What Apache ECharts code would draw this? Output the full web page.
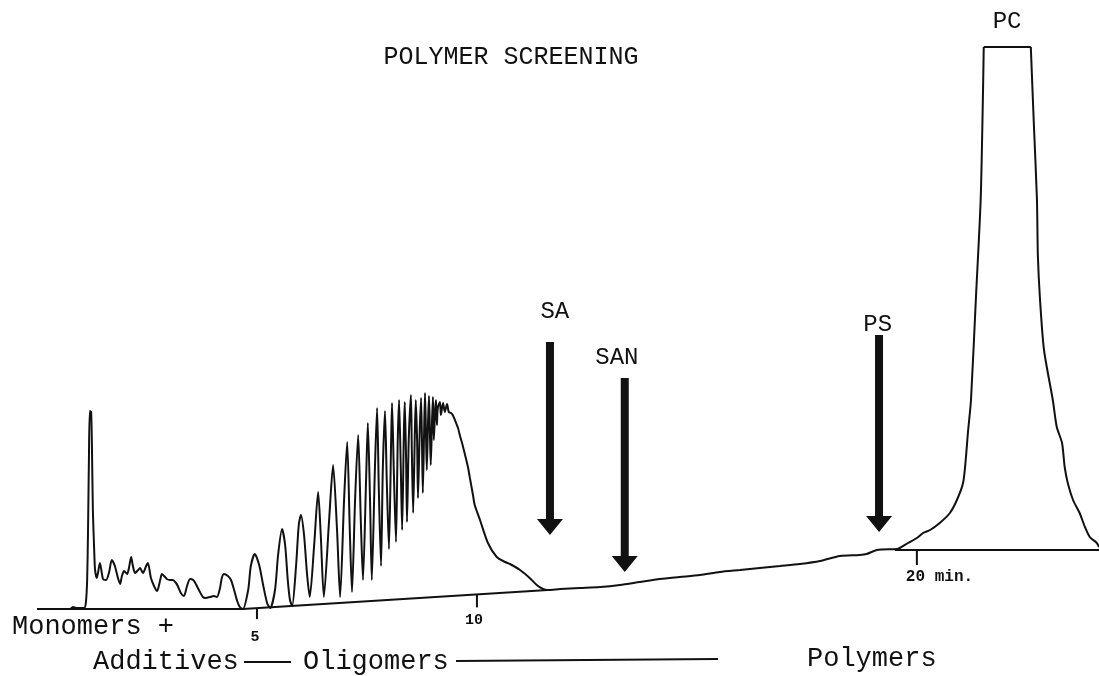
<!DOCTYPE html>
<html><head><meta charset="utf-8">
<script src="https://cdn.jsdelivr.net/npm/echarts@6/dist/echarts.min.js"></script>
<style>html,body{margin:0;padding:0;background:#fff}#c{width:1099px;height:676px}</style>
</head><body><div id="c"></div>
<script>
// ---- Data: [time (min), detector response (arbitrary units)] ----
const monomerTrace = [
  [0,1],[0.75,1],[0.82,3],[0.89,2],[1.07,2],[1.11,7],[1.14,30],[1.16,80],[1.18,150],[1.20,199],
  [1.23,198],[1.25,160],[1.27,100],[1.30,60],[1.32,40],[1.36,32],[1.43,47],[1.50,31],[1.57,30],[1.64,38],
  [1.70,50],[1.77,44],[1.84,32],[1.89,26],[1.93,34],[1.98,39],[2.05,36],[2.09,42],[2.14,53],[2.18,44],
  [2.23,37],[2.30,40],[2.34,42],[2.41,37],[2.48,44],[2.52,47],[2.59,32],[2.66,24],[2.73,19],[2.80,30],
  [2.84,36],[2.91,33],[2.95,31],[3.02,30],[3.09,30],[3.16,27],[3.20,24],[3.27,17],[3.34,14],[3.41,24],
  [3.48,31],[3.55,30],[3.61,26],[3.68,20],[3.77,13],[3.84,12],[3.93,13],[4.02,14],[4.09,13],[4.16,22],
  [4.20,32],[4.25,36],[4.34,34],[4.41,30],[4.48,20],[4.55,9],[4.61,3],[4.68,1]
];
const oligomerTrace = [
  [4.80,20],[4.86,44],[4.95,56],[5.05,45],[5.14,25],[5.23,7],[5.30,2],
  [5.41,20],[5.48,55],[5.57,81],[5.64,65],[5.70,30],[5.75,10],[5.80,4],
  [5.89,45],[5.95,85],[6.00,95],[6.07,75],[6.14,35],[6.20,13],
  [6.30,65],[6.39,118],[6.45,75],[6.52,13],
  [6.64,90],[6.73,145],[6.82,80],[6.89,13],
  [6.98,110],[7.05,168],[7.11,80],[7.16,18],
  [7.23,110],[7.30,175],[7.36,90],[7.41,30],
  [7.48,130],[7.52,187],[7.57,110],[7.61,30],
  [7.68,140],[7.73,202],[7.77,120],[7.82,44],
  [7.86,140],[7.91,199],[7.95,130],[8.00,61],
  [8.05,170],[8.07,207],[8.11,140],[8.16,68],
  [8.20,170],[8.23,210],[8.27,140],[8.30,80],
  [8.34,180],[8.36,208],[8.39,150],[8.41,88],
  [8.45,170],[8.50,215],[8.52,160],[8.55,97],
  [8.59,180],[8.61,210],[8.64,170],[8.66,112],
  [8.70,180],[8.73,212],[8.75,170],[8.77,117],
  [8.80,180],[8.82,217],[8.84,180],[8.86,140],
  [8.89,190],[8.91,214],[8.93,180],[8.95,145],
  [8.98,190],[9.00,213],[9.02,170],
  [9.05,200],[9.07,210],[9.09,185],
  [9.11,202],[9.16,208],[9.18,195],[9.23,207],[9.27,198],[9.32,206],[9.36,198],[9.41,197],[9.45,195],
  [9.50,190],[9.57,182],[9.61,175],[9.68,164],[9.73,155],[9.80,142],[9.84,132],[9.91,115],[9.95,105],
  [10.07,90],[10.25,67],[10.45,53],[10.64,48],[10.75,46],[10.98,40],[11.20,32],[11.36,25],[11.50,21],[11.61,20]
];
const polymerTrace = [
  [11.89,21],[12.34,22],[12.80,23],[13.25,25],[13.70,28],[14.16,31],[14.61,33],[15.07,35],[15.52,38],
  [15.98,40],[16.43,42],[16.89,44],[17.34,46],[17.80,49],[18.25,54],[18.70,55],[18.86,56],[19.09,60],[19.55,61]
];
const pcRise = [
  [19.61,62],[19.80,67],[20.00,72],[20.14,77],[20.30,80],[20.52,87],[20.75,97],[20.91,110],[21.05,127],
  [21.11,150],[21.16,177],[21.23,210],[21.34,310],[21.45,410],[21.50,510],[21.52,563]
];
const pcTop = [[21.52,563],[22.59,563]];
const pcFall = [
  [22.59,563],[22.66,485],[22.73,410],[22.75,355],[22.80,310],[22.89,260],[23.09,210],[23.18,183],[23.30,167],
  [23.36,143],[23.43,127],[23.55,110],[23.70,97],[23.82,83],[23.93,73],[24.09,67],[24.14,63]
];
const baselineLeft = [[0,1],[4.68,1],[11.61,20]];
const baselineRight = [[19.50,60],[24.14,60]];

const tickTimes = [5, 10, 20];
const tickLabels = ['5', '10', '20 min.'];

const arrowNames = ['SA', 'SAN', 'PS'];
const arrowTimes = [11.66, 13.36, 19.14];
const arrowTop = [268, 232, 275];
const arrowTip = [75, 38, 78];
const arrowLabelTimes = [11.77, 13.18, 19.11];
const arrowLabelValues = [298, 252, 285];

const peakNames = ['PC'];
const peakLabelTimes = [22.05];
const peakLabelValues = [588];

// ---- Rendering ----
const FONT = "'Liberation Mono','Courier New',monospace";
const INK = '#111';
const mainSignal = monomerTrace.concat(oligomerTrace, polymerTrace, pcRise);

function baselineAt(t) {
  for (const seg of [baselineLeft, baselineRight]) {
    for (let i = 0; i < seg.length - 1; i++) {
      const a = seg[i], b = seg[i + 1];
      if (t >= a[0] && t <= b[0]) return a[1] + (b[1] - a[1]) * (t - a[0]) / (b[0] - a[0]);
    }
  }
  return 0;
}
const tickData = tickTimes.map(t => [t, baselineAt(t)]);
const arrowData = arrowTimes.map((t, i) => [t, arrowTop[i], arrowTip[i], arrowLabelTimes[i], arrowLabelValues[i]]);
const peakData = peakLabelTimes.map((t, i) => [t, peakLabelValues[i]]);

const tickStyle = [
  {len: 11, dx: -2, dy: 29, align: 'center', size: 15},
  {len: 13, dx: -3, dy: 26, align: 'center', size: 15},
  {len: 15, dx: -11, dy: 27, align: 'left', size: 16}
];

function lineSeries(data, smooth) {
  return {type: 'line', data: data, showSymbol: false, symbol: 'none', smooth: smooth,
          lineStyle: {color: INK, width: 2}, clip: false, silent: true};
}

const chart = echarts.init(document.getElementById('c'));
chart.setOption({
  animation: false,
  backgroundColor: '#fff',
  grid: {left: 37, right: 0, top: 10, bottom: 66},
  xAxis: {type: 'value', min: 0, max: 24.14, show: false},
  yAxis: {type: 'value', min: 0, max: 600, show: false},
  series: [
    lineSeries(mainSignal, 0.25),
    lineSeries(pcTop, false),
    lineSeries(pcFall, 0.25),
    lineSeries(baselineLeft, false),
    lineSeries(baselineRight, false),
    {type: 'custom', data: tickData, clip: false, silent: true,
     renderItem(params, api) {
       const i = params.dataIndex, s = tickStyle[i];
       const p = api.coord([api.value(0), api.value(1)]);
       return {type: 'group', children: [
         {type: 'line', shape: {x1: p[0], y1: p[1], x2: p[0], y2: p[1] + s.len},
          style: {stroke: INK, lineWidth: 2}},
         {type: 'text', x: p[0] + s.dx, y: p[1] + s.dy,
          style: {text: tickLabels[i], fill: INK, font: `bold ${s.size}px ${FONT}`,
                  align: s.align, verticalAlign: 'middle'}}
       ]};
     }},
    {type: 'custom', data: arrowData, clip: false, silent: true,
     renderItem(params, api) {
       const t = api.value(0);
       const pT = api.coord([t, api.value(1)]);
       const pP = api.coord([t, api.value(2)]);
       const pL = api.coord([api.value(3), api.value(4)]);
       const hw = 13, hh = 16, sw = 8;
       return {type: 'group', children: [
         {type: 'rect', shape: {x: pT[0] - sw / 2, y: pT[1], width: sw, height: pP[1] - hh - pT[1] + 1},
          style: {fill: INK}},
         {type: 'polygon', shape: {points: [[pP[0] - hw, pP[1] - hh], [pP[0] + hw, pP[1] - hh], [pP[0], pP[1]]]},
          style: {fill: INK}},
         {type: 'text', x: pL[0], y: pL[1],
          style: {text: arrowNames[params.dataIndex], fill: INK, font: `24px ${FONT}`,
                  align: 'center', verticalAlign: 'middle'}}
       ]};
     }},
    {type: 'custom', data: peakData, clip: false, silent: true,
     renderItem(params, api) {
       const p = api.coord([api.value(0), api.value(1)]);
       return {type: 'text', x: p[0], y: p[1],
         style: {text: peakNames[params.dataIndex], fill: INK, font: `24px ${FONT}`,
                 align: 'center', verticalAlign: 'middle'}};
     }}
  ],
  graphic: [
    {type: 'text', x: 511, y: 57, style: {text: 'POLYMER SCREENING', fill: INK, font: `25px ${FONT}`, align: 'center', verticalAlign: 'middle'}},
    {type: 'text', x: 12, y: 627, style: {text: 'Monomers +', fill: INK, font: `27px ${FONT}`, align: 'left', verticalAlign: 'middle'}},
    {type: 'text', x: 93, y: 662, style: {text: 'Additives', fill: INK, font: `27px ${FONT}`, align: 'left', verticalAlign: 'middle'}},
    {type: 'line', shape: {x1: 244, y1: 662, x2: 291, y2: 662}, style: {stroke: INK, lineWidth: 2}},
    {type: 'text', x: 303, y: 662, style: {text: 'Oligomers', fill: INK, font: `27px ${FONT}`, align: 'left', verticalAlign: 'middle'}},
    {type: 'line', shape: {x1: 456, y1: 661, x2: 718, y2: 659}, style: {stroke: INK, lineWidth: 2}},
    {type: 'text', x: 807, y: 659, style: {text: 'Polymers', fill: INK, font: `27px ${FONT}`, align: 'left', verticalAlign: 'middle'}}
  ]
});
</script>
</body></html>
